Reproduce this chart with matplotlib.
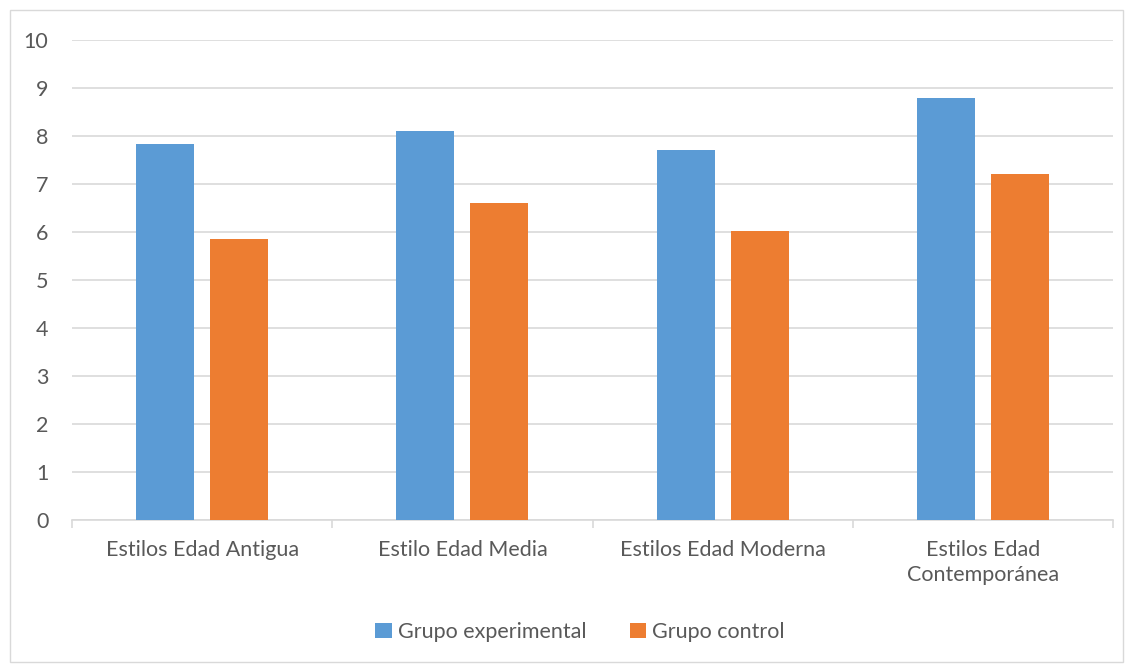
import matplotlib
matplotlib.use("Agg")
import matplotlib.pyplot as plt
import numpy as np
from matplotlib.patches import Rectangle

categories = ["Estilos Edad Antigua", "Estilo Edad Media", "Estilos Edad Moderna",
              "Estilos Edad\nContemporánea"]
experimental = [7.83, 8.09, 7.69, 8.78]
control = [5.85, 6.60, 6.02, 7.20]
series_names = ["Grupo experimental", "Grupo control"]
yticks = list(range(0, 11))

plt.rcParams["font.family"] = ["Lato", "DejaVu Sans"]
text_color = "#595959"
blue = "#5B9BD5"
orange = "#ED7D31"
fs = 15.5

fig = plt.figure(figsize=(11.33, 6.66), dpi=100)
ax = fig.add_axes([72 / 1133, 146.5 / 666, (1113 - 72) / 1133, 480 / 666])

# chart frame
fig.patches.append(Rectangle((10 / 1133, 4 / 666), 1113 / 1133, 652 / 666,
                             transform=fig.transFigure, fill=False,
                             edgecolor="#D9D9D9", linewidth=1.0))

x = np.arange(len(categories))
w = 0.223
off = 0.142
ax.bar(x - off, experimental, w, color=blue, label=series_names[0], zorder=3)
ax.bar(x + off, control, w, color=orange, label=series_names[1], zorder=3)

ax.set_xlim(-0.5, len(categories) - 0.5)
ax.set_ylim(0, 10)
ax.set_yticks(yticks)
ax.yaxis.grid(True, color="#D9D9D9", linewidth=1.2, zorder=0)
ax.tick_params(axis="y", length=0, labelsize=fs, labelcolor=text_color, pad=17)

ax.set_xticks(x)
ax.set_xticklabels(categories, fontsize=fs, color=text_color, linespacing=1.3)
ax.tick_params(axis="x", which="major", length=0, pad=15)
ax.set_xticks(np.arange(-0.5, len(categories), 1.0), minor=True)
ax.tick_params(axis="x", which="minor", length=6, color="#D9D9D9", width=1.2)

for s in ["top", "right", "left"]:
    ax.spines[s].set_visible(False)
ax.spines["bottom"].set_color("#D9D9D9")
ax.spines["bottom"].set_linewidth(1.2)

leg = fig.legend(loc="center", bbox_to_anchor=(580 / 1133, 1 - 632 / 666), ncol=2,
                 frameon=False, fontsize=fs, handlelength=0.75, handleheight=0.75,
                 handletextpad=0.3, columnspacing=2.0)
for t in leg.get_texts():
    t.set_color(text_color)

fig.savefig("out.png", dpi=100)
